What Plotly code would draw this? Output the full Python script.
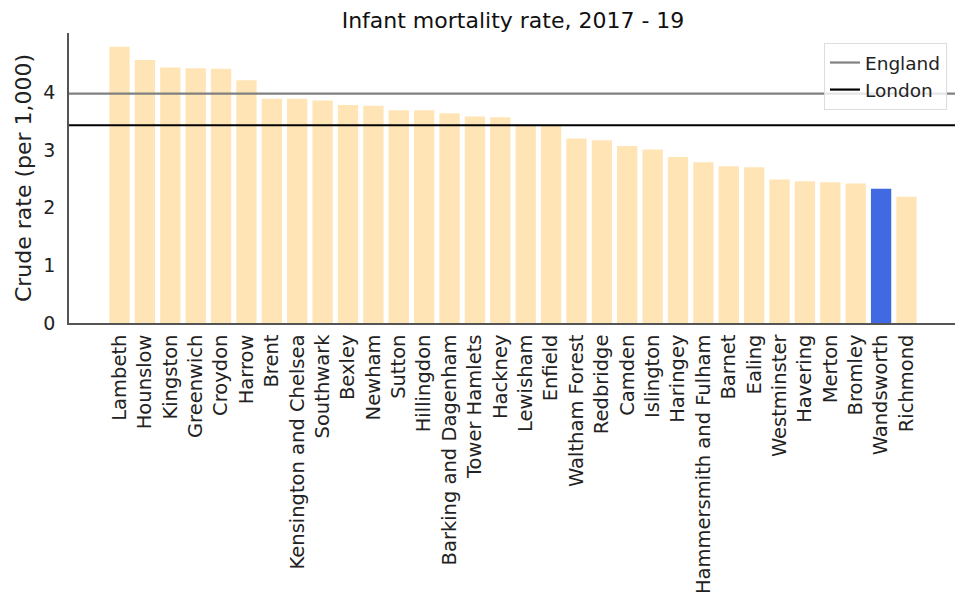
import plotly.graph_objects as go

boroughs = ["Lambeth", "Hounslow", "Kingston", "Greenwich", "Croydon", "Harrow", "Brent",
            "Kensington and Chelsea", "Southwark", "Bexley", "Newham", "Sutton", "Hillingdon",
            "Barking and Dagenham", "Tower Hamlets", "Hackney", "Lewisham", "Enfield",
            "Waltham Forest", "Redbridge", "Camden", "Islington", "Haringey",
            "Hammersmith and Fulham", "Barnet", "Ealing", "Westminster", "Havering",
            "Merton", "Bromley", "Wandsworth", "Richmond"]
rates = [4.79, 4.56, 4.43, 4.42, 4.41, 4.21, 3.89, 3.89, 3.86, 3.78, 3.77, 3.69, 3.69,
         3.64, 3.58, 3.57, 3.42, 3.42, 3.20, 3.17, 3.07, 3.01, 2.88, 2.79, 2.72, 2.70,
         2.49, 2.46, 2.44, 2.42, 2.33, 2.19]
england_rate = 3.98
london_rate = 3.43
highlight = "Wandsworth"

colors = ["#4169E1" if b == highlight else "#FFE4B5" for b in boroughs]
n = len(boroughs)

fig = go.Figure()
fig.add_trace(go.Bar(x=boroughs, y=rates, marker=dict(color=colors, line=dict(width=0)),
                     width=0.8, showlegend=False))
fig.add_hline(y=england_rate, line=dict(color="#808080", width=2.2), showlegend=True, name="England", layer="above")
fig.add_hline(y=london_rate, line=dict(color="#000000", width=2.2), showlegend=True, name="London", layer="above")

W, H = 955, 588
fig.update_layout(
    width=W, height=H,
    margin=dict(l=61, r=6, t=25, b=273),
    paper_bgcolor="white", plot_bgcolor="white",
    font=dict(family="DejaVu Sans", size=19, color="#222"),
    title=dict(text="Infant mortality rate, 2017 - 19", x=0.5, xanchor="center", xref="paper",
               yref="container", y=1 - 12 / H, yanchor="middle", font=dict(size=22, color="#111")),
    legend=dict(x=0.9887, y=0.9655, xanchor="right", yanchor="top",
                bgcolor="rgba(255,255,255,0.8)", bordercolor="#dddddd", borderwidth=1,
                font=dict(size=18.5)),
)
fig.update_xaxes(range=[-1.99, n - 1 + 1.99], tickangle=-90, showline=True, linecolor="#555",
                 linewidth=1.5, ticks="outside", ticklen=2, tickcolor="rgba(0,0,0,0)",
                 showgrid=False, tickfont=dict(size=19.5), automargin=False)
fig.update_yaxes(range=[0, 5.03], tickvals=[0, 1, 2, 3, 4], showline=True, linecolor="#555",
                 linewidth=1.5, ticks="outside", ticklen=8, tickcolor="rgba(0,0,0,0)",
                 showgrid=False, zeroline=False, automargin=False,
                 title=dict(text="Crude rate (per 1,000)", font=dict(size=22), standoff=6),
                 tickfont=dict(size=19))

fig.write_html("out.html")
